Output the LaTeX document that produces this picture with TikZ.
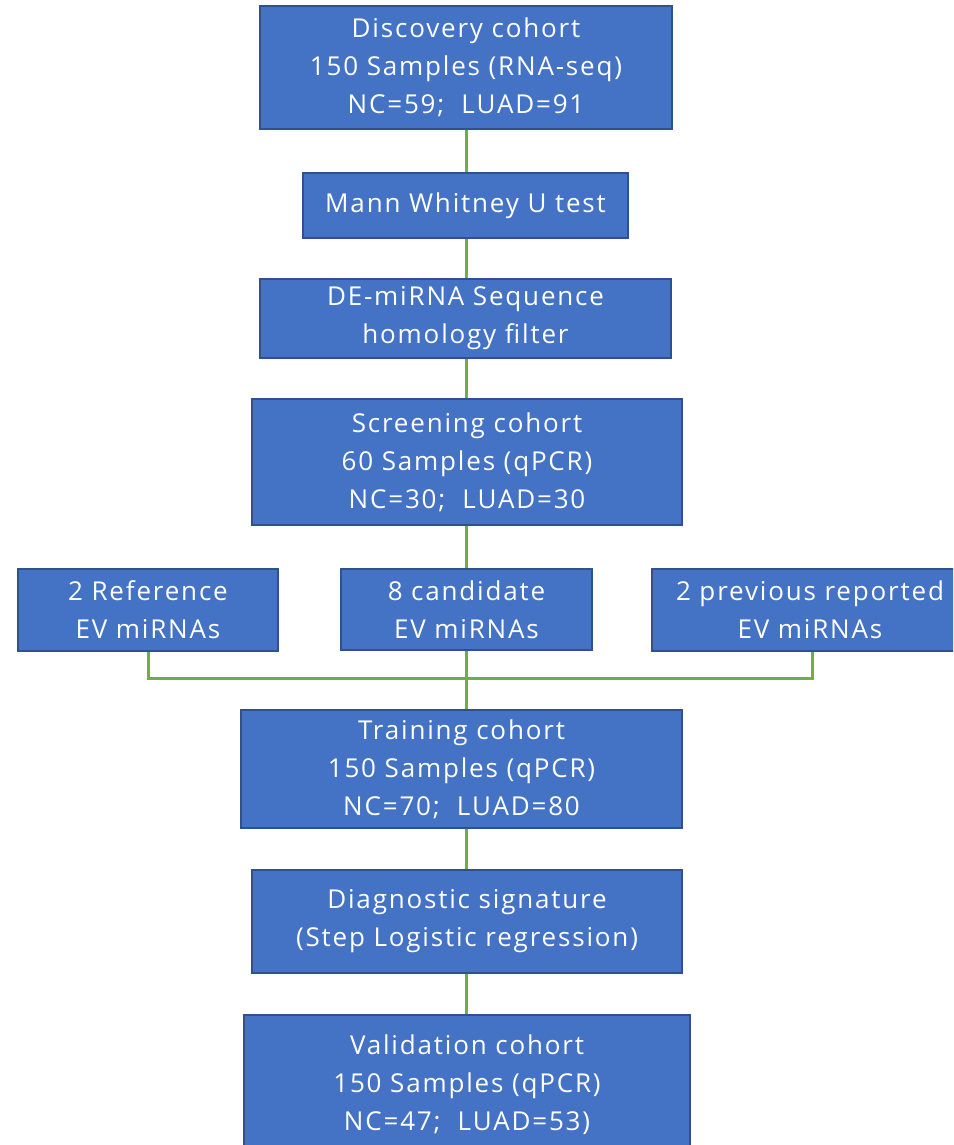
\documentclass[tikz,border=0pt]{standalone}
\usepackage{fontspec}
\setmainfont[LetterSpace=7]{Open Sans}
\definecolor{boxfill}{HTML}{4472C4}
\definecolor{boxline}{HTML}{2F528F}
\definecolor{conn}{HTML}{70AD47}
\begin{document}
\begin{tikzpicture}[x=1pt,y=-1pt,
  stepbox/.style={draw=boxline,line width=1.2pt,fill=boxfill,text=white,align=center,
    inner sep=0pt,font=\fontsize{26}{38}\selectfont},
  link/.style={draw=conn,line width=3pt}]
\useasboundingbox (0,0) rectangle (953,1145);
\clip (0,0) rectangle (953,1145);
\newcommand{\bx}[6]{\node[stepbox,minimum width=#4-#2,minimum height=#5-#3] (#1) at ({(#2+#4)/2},{(#3+#5)/2+1}) {#6};}
\coordinate (jl) at (148,678);
\coordinate (jm) at (466,678);
\coordinate (jr) at (812,678);
\bx{disc}{260}{5}{672}{128}{Discovery cohort\\150 Samples (RNA-seq)\\NC=59;\ \ LUAD=91}
\bx{mann}{303}{172}{628}{237}{Mann Whitney U test}
\bx{de}{260}{278}{671}{357}{DE-miRNA Sequence\\homology filter}
\bx{scr}{252}{398}{682}{524}{Screening cohort\\60 Samples (qPCR)\\NC=30;\ \ LUAD=30}
\bx{ref}{18}{568}{278}{650}{2 Reference\\EV miRNAs}
\bx{cand}{341}{568}{592}{649}{8 candidate\\EV miRNAs}
\bx{prev}{652}{568}{968}{650}{2 previous reported\\EV miRNAs}
\bx{train}{241}{709}{682}{827}{Training cohort\\150 Samples (qPCR)\\NC=70;\ \ LUAD=80}
\bx{diag}{252}{869}{682}{972}{Diagnostic signature\\(Step Logistic regression)}
\bx{val}{244}{1014}{690}{1154}{Validation cohort\\150 Samples (qPCR)\\NC=47;\ \ LUAD=53)}
\draw[link] (disc.south -| jm) -- (mann.north -| jm);
\draw[link] (mann.south -| jm) -- (de.north -| jm);
\draw[link] (de.south -| jm) -- (scr.north -| jm);
\draw[link] (scr.south -| jm) -- (cand.north -| jm);
\draw[link] (cand.south -| jm) -- (train.north -| jm);
\draw[link] (ref.south -| jl) -- (jl) -- (jr) -- (prev.south -| jr);
\draw[link] (train.south -| jm) -- (diag.north -| jm);
\draw[link] (diag.south -| jm) -- (val.north -| jm);
\end{tikzpicture}
\end{document}
